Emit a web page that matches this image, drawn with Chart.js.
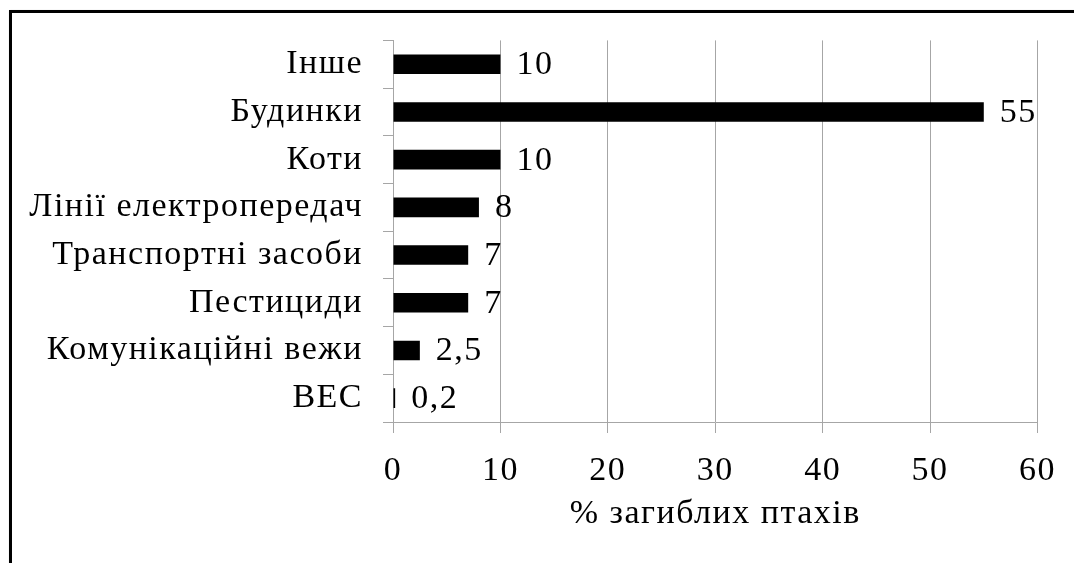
<!DOCTYPE html>
<html>
<head>
<meta charset="utf-8">
<script src="https://cdn.jsdelivr.net/npm/chart.js@4"></script>
<style>
  html, body { margin: 0; padding: 0; background: #fff; }
  #wrap { position: relative; width: 1074px; height: 563px; overflow: hidden; }
  #frame { position: absolute; left: 9px; top: 10px; width: 1100px; height: 600px; border: 3px solid #000; box-shadow: 1px 1px 2px #999; }
  canvas { position: absolute; left: 0; top: 0; }
</style>
</head>
<body>
<div id="wrap">
  <div id="frame"></div>
  <canvas id="chart" width="1074" height="563"></canvas>
</div>
<script>
// data
const categories = ['Інше', 'Будинки', 'Коти', 'Лінії електропередач', 'Транспортні засоби', 'Пестициди', 'Комунікаційні вежи', 'ВЕС'];
const values = [10, 55, 10, 8, 7, 7, 2.5, 0.2];
const xTicks = [0, 10, 20, 30, 40, 50, 60];
const xTitle = '% загиблих птахів';

const FONT = 'Liberation Serif, Times New Roman, serif';
const FSIZE = 34;
const gridGray = '#a6a6a6';

// the original text is a little wide, so space the letters out
const wideText = {
    id: 'wideText',
    beforeLayout(chart) { chart.ctx.letterSpacing = '1.5px'; },
    beforeDraw(chart) { chart.ctx.letterSpacing = '1.5px'; }
};

// value labels next to the bars
const barLabels = {
    id: 'barLabels',
    afterDatasetsDraw(chart) {
        const ctx = chart.ctx;
        const meta = chart.getDatasetMeta(0);
        ctx.save();
        ctx.font = FSIZE + 'px ' + FONT;
        ctx.fillStyle = '#000';
        ctx.textAlign = 'left';
        ctx.textBaseline = 'middle';
        meta.data.forEach((bar, i) => {
            ctx.fillText(String(values[i]).replace('.', ','), bar.x + 16, bar.y + 1);
        });
        ctx.restore();
    }
};

new Chart(document.getElementById('chart').getContext('2d'), {
    type: 'bar',
    data: {
        labels: categories,
        datasets: [{
            data: values,
            backgroundColor: '#000',
            borderWidth: 0,
            categoryPercentage: 1,
            barPercentage: 0.41
        }]
    },
    options: {
        indexAxis: 'y',
        responsive: false,
        animation: false,
        layout: { padding: { left: 10, top: 40, right: 36, bottom: 29 } },
        plugins: {
            legend: { display: false },
            tooltip: { enabled: false }
        },
        scales: {
            x: {
                min: 0,
                max: 60,
                afterFit: (s) => { s.height = 112; },
                afterBuildTicks: (s) => { s.ticks = xTicks.map(v => ({ value: v })); },
                grid: { color: gridGray, tickLength: 11, lineWidth: 1 },
                border: { color: gridGray },
                ticks: { color: '#000', font: { family: FONT, size: FSIZE }, padding: 18 },
                title: {
                    display: true,
                    text: xTitle,
                    color: '#000',
                    font: { family: FONT, size: FSIZE },
                    padding: { top: 0, bottom: 0 }
                }
            },
            y: {
                afterFit: (s) => { s.width = 383; },
                grid: { color: gridGray, drawOnChartArea: false, offset: true, tickLength: 10 },
                border: { color: gridGray },
                ticks: { color: '#000', font: { family: FONT, size: FSIZE }, padding: 20 }
            }
        }
    },
    plugins: [wideText, barLabels]
});
</script>
</body>
</html>
